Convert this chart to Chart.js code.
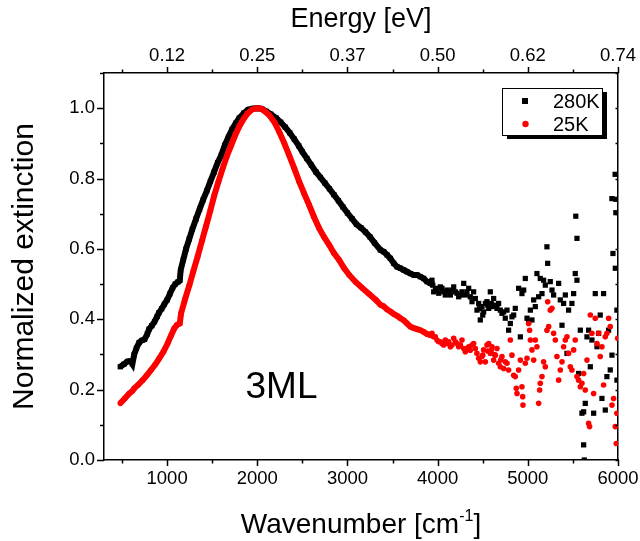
<!DOCTYPE html>
<html>
<head>
<meta charset="utf-8">
<script src="https://cdn.jsdelivr.net/npm/chart.js@4/dist/chart.umd.min.js"></script>
<style>
  html, body { margin: 0; padding: 0; background: #fff; }
  #wrap { width: 640px; height: 541px; }
</style>
</head>
<body>
<div id="wrap"><canvas id="c" width="640" height="541"></canvas></div>
<script>
const FONT = '"Liberation Sans", Arial, Helvetica, sans-serif';

// Axis ticks
const xTicks = [1000, 2000, 3000, 4000, 5000, 6000];
const energyLabels = ['0.12', '0.25', '0.37', '0.50', '0.62', '0.74'];
const yTicks = [0, 0.2, 0.4, 0.6, 0.8, 1.0];
const seriesNames = ['280K', '25K'];
const sampleLabel = '3ML';

// 280K spectrum: wavenumber [cm^-1] and normalized extinction
const wn280 = [
  480, 520, 560, 595, 615, 635, 660, 690, 720, 750, 780, 800, 830, 860, 890, 910, 940, 970,
  1000, 1030, 1060, 1090, 1120, 1140, 1150, 1180, 1210, 1245, 1280, 1320, 1360, 1400, 1440,
  1480, 1520, 1560, 1600, 1640, 1680, 1720, 1760, 1800, 1850, 1900, 1950, 2000, 2050, 2100,
  2150, 2210, 2260, 2310, 2360, 2410, 2460, 2500, 2550, 2600, 2650, 2700, 2750, 2800, 2850,
  2900, 2950, 3000, 3050, 3100, 3150, 3200, 3250, 3300, 3365, 3402, 3439, 3476, 3513, 3550,
  3587, 3624, 3661, 3698, 3735, 3771, 3808, 3845, 3882, 3919,
  3937, 3946, 3956, 3975, 3993, 4012, 4030, 4048, 4067, 4085, 4104, 4122, 4141, 4159, 4178,
  4196, 4215, 4233, 4252, 4270, 4289, 4307, 4325, 4344, 4362, 4381, 4399, 4418, 4436, 4455,
  4464, 4473, 4492, 4500, 4510, 4529, 4547, 4556, 4566, 4584, 4594, 4603, 4621, 4640, 4658,
  4676, 4695, 4713, 4732, 4750, 4769, 4787, 4806, 4824, 4843, 4861, 4898, 4917, 4935, 4954,
  4972, 4991, 5009, 5028, 5046, 5065, 5083, 5101, 5120, 5138, 5157, 5175, 5194, 5212, 5220,
  5249, 5268, 5286, 5342, 5360, 5379, 5397, 5416, 5434, 5452, 5489, 5508, 5526, 5532, 5545,
  5545, 5563, 5582, 5600, 5619, 5619, 5626, 5637, 5656, 5674, 5693, 5711, 5730, 5748, 5767,
  5785, 5803, 5822, 5840, 5859, 5877, 5896, 5914, 5932, 5933, 5944, 5968, 5970, 5976, 5976,
  5988, 5988
];
const ext280 = [
  0.265, 0.272, 0.280, 0.281, 0.273, 0.300, 0.318, 0.334, 0.340, 0.343, 0.358, 0.372, 0.382, 0.393, 0.408, 0.419, 0.430, 0.443,
  0.455, 0.472, 0.489, 0.500, 0.506, 0.510, 0.540, 0.570, 0.600, 0.628, 0.656, 0.685, 0.713, 0.740, 0.765,
  0.792, 0.818, 0.845, 0.866, 0.895, 0.918, 0.940, 0.957, 0.972, 0.986, 0.996, 0.999, 1.000, 0.998, 0.991,
  0.983, 0.972, 0.960, 0.946, 0.930, 0.912, 0.893, 0.876, 0.857, 0.838, 0.819, 0.803, 0.787, 0.771, 0.754,
  0.737, 0.719, 0.702, 0.686, 0.670, 0.660, 0.648, 0.634, 0.617, 0.597, 0.592, 0.583, 0.573, 0.559, 0.549,
  0.545, 0.540, 0.535, 0.530, 0.526, 0.526, 0.521, 0.516, 0.507, 0.502,
  0.511, 0.497, 0.478, 0.488, 0.483, 0.474, 0.492, 0.488, 0.478, 0.469, 0.483, 0.478, 0.469, 0.483, 0.492,
  0.478, 0.474, 0.464, 0.469, 0.478, 0.502, 0.469, 0.478, 0.488, 0.464, 0.450, 0.478, 0.459, 0.426, 0.445,
  0.430, 0.398, 0.436, 0.412, 0.421, 0.445, 0.450, 0.440, 0.431, 0.478, 0.445, 0.436, 0.459, 0.440, 0.431,
  0.445, 0.426, 0.417, 0.421, 0.403, 0.426, 0.369, 0.388, 0.407, 0.412, 0.431, 0.488, 0.350, 0.473, 0.483,
  0.516, 0.403, 0.393, 0.426, 0.398, 0.455, 0.436, 0.530, 0.464, 0.516, 0.473, 0.511, 0.497, 0.606, 0.559,
  0.507, 0.483, 0.469, 0.502, 0.455, 0.383, 0.445, 0.469, 0.303, 0.426, 0.445, 0.473, 0.530, 0.693, 0.630,
  0.511, 0.246, 0.369, 0.133, 0.137, 0.043, 0.000, 0.161, 0.350, 0.369, 0.265, 0.341, 0.133, 0.473, 0.322,
  0.360, 0.412, 0.175, 0.473, 0.142, 0.237, 0.369, 0.256, 0.743, 0.298, 0.587, 0.812, 0.545, 0.741, 0.703,
  0.426, 0.227
];

// 25K spectrum: wavenumber [cm^-1] and normalized extinction
const wn25 = [
  481, 530, 580, 615, 636, 680, 728, 780, 821, 870, 913, 960, 1005, 1040, 1079, 1110, 1140, 1155,
  1200, 1246, 1290, 1338, 1385, 1431, 1480, 1523, 1570, 1615, 1660, 1708, 1755, 1800, 1850, 1892,
  1940, 1990, 2040, 2090, 2133, 2190, 2243, 2300, 2354, 2410, 2465, 2520, 2576, 2630, 2687, 2740,
  2798, 2850, 2909, 2960, 3019, 3090, 3167, 3240, 3315, 3365, 3402, 3439, 3476, 3513, 3550, 3587,
  3624, 3661, 3698, 3735, 3771, 3808, 3845, 3882, 3919,
  3937, 3955, 3974, 3993, 4011, 4030, 4048, 4067, 4085, 4104, 4122, 4141, 4159, 4178, 4196, 4215,
  4233, 4252, 4270, 4289, 4307, 4326, 4344, 4362, 4381, 4399, 4418, 4436, 4455, 4473, 4492, 4500,
  4510, 4529, 4547, 4556, 4566, 4584, 4594, 4603, 4621, 4630, 4640, 4658, 4676, 4695, 4700, 4713,
  4732, 4750, 4769, 4787, 4806, 4824, 4843, 4861, 4872, 4880, 4898, 4917, 4935, 4943, 4946, 4972,
  4991, 5009, 5020, 5028, 5046, 5065, 5083, 5101, 5120, 5131, 5138, 5157, 5175, 5194, 5212, 5220,
  5231, 5249, 5268, 5286, 5305, 5323, 5342, 5360, 5379, 5397, 5416, 5434, 5452, 5471, 5489, 5508,
  5526, 5545, 5563, 5582, 5600, 5619, 5637, 5656, 5674, 5685, 5693, 5711, 5730, 5748, 5767, 5785,
  5803, 5822, 5840, 5859, 5877, 5896, 5914, 5933, 5951, 5970, 5981, 5988, 5996
];
const ext25 = [
  0.161, 0.175, 0.189, 0.196, 0.204, 0.214, 0.227, 0.242, 0.256, 0.272, 0.289, 0.308, 0.331, 0.352, 0.374, 0.384, 0.388, 0.417,
  0.458, 0.496, 0.536, 0.578, 0.622, 0.664, 0.710, 0.752, 0.792, 0.828, 0.862, 0.893, 0.923, 0.948, 0.970, 0.985,
  0.996, 1.000, 0.999, 0.990, 0.980, 0.960, 0.933, 0.900, 0.866, 0.829, 0.791, 0.757, 0.724, 0.690, 0.658, 0.634,
  0.611, 0.588, 0.568, 0.546, 0.526, 0.506, 0.488, 0.472, 0.455, 0.441, 0.437, 0.428, 0.422, 0.415, 0.410, 0.403,
  0.397, 0.388, 0.379, 0.375, 0.372, 0.369, 0.364, 0.358, 0.355,
  0.360, 0.350, 0.350, 0.341, 0.336, 0.336, 0.331, 0.327, 0.341, 0.331, 0.336, 0.322, 0.327, 0.346, 0.336, 0.331,
  0.322, 0.327, 0.341, 0.317, 0.308, 0.317, 0.322, 0.312, 0.327, 0.331, 0.317, 0.303, 0.289, 0.279, 0.294, 0.298,
  0.313, 0.279, 0.327, 0.310, 0.331, 0.303, 0.312, 0.322, 0.284, 0.300, 0.298, 0.317, 0.275, 0.265, 0.285, 0.294,
  0.260, 0.279, 0.275, 0.256, 0.341, 0.298, 0.241, 0.237, 0.204, 0.189, 0.256, 0.284, 0.208, 0.180, 0.156, 0.275,
  0.289, 0.388, 0.369, 0.341, 0.313, 0.284, 0.341, 0.322, 0.161, 0.199, 0.218, 0.237, 0.279, 0.265, 0.369, 0.450,
  0.379, 0.426, 0.431, 0.360, 0.341, 0.294, 0.227, 0.256, 0.279, 0.322, 0.341, 0.350, 0.303, 0.265, 0.256, 0.313,
  0.341, 0.237, 0.227, 0.208, 0.218, 0.246, 0.199, 0.284, 0.104, 0.095, 0.412, 0.360, 0.189, 0.403, 0.331, 0.360,
  0.294, 0.322, 0.213, 0.350, 0.360, 0.403, 0.379, 0.156, 0.175, 0.095, 0.047, 0.133, 0.346
];

// Above this wavenumber the noisy spectra are drawn as separate points only
const lineEnd = 3920;

const toPoints = (xs, ys) => xs.map((x, i) => ({ x: x, y: ys[i] }));
const BLACK = '#000000';
const RED = '#ff0000';

// Frame ticks, axis titles, sample label and legend box
const decorations = {
  id: 'decorations',
  afterDraw(chart) {
    const ctx = chart.ctx;
    const a = chart.chartArea;
    const xs = chart.scales.x;
    const ys = chart.scales.y;
    ctx.save();
    ctx.strokeStyle = '#000';
    ctx.lineWidth = 1.5;
    ctx.beginPath();
    const xStep = 500;
    for (let v = xStep; v <= 6000; v += xStep) {
      const px = Math.round(xs.getPixelForValue(v)) + 0.5;
      const len = v % 1000 === 0 ? 6 : 3.5;
      ctx.moveTo(px, a.bottom); ctx.lineTo(px, a.bottom + len);
      ctx.moveTo(px, a.top); ctx.lineTo(px, a.top - len);
    }
    for (let k = 0; k <= 11; k++) {
      const v = k / 10;
      const py = Math.round(ys.getPixelForValue(v)) + 0.5;
      const len = k % 2 === 0 ? 7 : 4;
      ctx.moveTo(a.left, py); ctx.lineTo(a.left - len, py);
      ctx.moveTo(a.right, py); ctx.lineTo(a.right - 2.5, py);
    }
    ctx.stroke();

    ctx.fillStyle = '#000';
    // y axis title, centred on the axis
    ctx.save();
    ctx.translate(33, (a.top + a.bottom) / 2);
    ctx.rotate(-Math.PI / 2);
    ctx.font = '30px ' + FONT;
    ctx.textAlign = 'center';
    ctx.textBaseline = 'alphabetic';
    ctx.fillText('Normalized extinction', 0, 0);
    ctx.restore();

    // x axis title with superscript unit
    const mainFont = '28px ' + FONT;
    const supFont = '16px ' + FONT;
    const partA = 'Wavenumber [cm';
    const partSup = '-1';
    const partB = ']';
    ctx.font = mainFont;
    const wA = ctx.measureText(partA).width;
    const wB = ctx.measureText(partB).width;
    ctx.font = supFont;
    const wS = ctx.measureText(partSup).width;
    const total = wA + wS + wB;
    const tx = (a.left + a.right) / 2 - total / 2;
    const base = 533;
    ctx.textAlign = 'left';
    ctx.textBaseline = 'alphabetic';
    ctx.font = mainFont;
    ctx.fillText(partA, tx, base);
    ctx.font = supFont;
    ctx.fillText(partSup, tx + wA, base - 12);
    ctx.font = mainFont;
    ctx.fillText(partB, tx + wA + wS, base);

    // sample label
    ctx.font = '37px ' + FONT;
    ctx.fillText(sampleLabel, 245.5, 398);

    // legend with drop shadow
    const bx = 502, by = 88, bw = 100, bh = 47;
    ctx.fillStyle = '#000';
    ctx.fillRect(bx + 5, by + 4, bw, bh);
    ctx.fillStyle = '#fff';
    ctx.fillRect(bx, by, bw, bh);
    ctx.lineWidth = 1;
    ctx.strokeStyle = '#000';
    ctx.strokeRect(bx + 0.5, by + 0.5, bw, bh);
    const entries = [
      { name: seriesNames[0], color: BLACK, shape: 'rect', y: 101 },
      { name: seriesNames[1], color: RED, shape: 'circle', y: 124 }
    ];
    ctx.font = '20px ' + FONT;
    entries.forEach(e => {
      ctx.fillStyle = e.color;
      if (e.shape === 'rect') {
        ctx.fillRect(522, e.y - 3, 6, 6);
      } else {
        ctx.beginPath();
        ctx.arc(525.5, e.y, 3.2, 0, Math.PI * 2);
        ctx.fill();
      }
      ctx.fillStyle = '#000';
      ctx.textBaseline = 'middle';
      ctx.fillText(e.name, 553, e.y + 1);
    });
    ctx.restore();
  }
};

const axisFont = { family: FONT, size: 18.5 };
const border = { display: true, color: '#000', width: 1.5 };
const fixHorizontal = h => s => { s.height = h; s.paddingLeft = 0; s.paddingRight = 0; };
const fixVertical = w => s => { s.width = w; s.paddingTop = 0; s.paddingBottom = 0; };

new Chart(document.getElementById('c'), {
  type: 'scatter',
  data: {
    datasets: [
      {
        label: seriesNames[1],
        data: toPoints(wn25, ext25),
        showLine: true,
        borderColor: RED,
        borderWidth: 6,
        backgroundColor: RED,
        pointStyle: 'circle',
        pointRadius: 2.8,
        pointBorderWidth: 0,
        pointHoverRadius: 2.8,
        order: 0,
        segment: { borderColor: c => (c.p0.parsed.x >= lineEnd ? 'rgba(0,0,0,0)' : RED) }
      },
      {
        label: seriesNames[0],
        data: toPoints(wn280, ext280),
        showLine: true,
        borderColor: BLACK,
        borderWidth: 6,
        backgroundColor: BLACK,
        pointStyle: 'rect',
        pointRadius: 3.7,
        pointBorderWidth: 0,
        pointHoverRadius: 3.7,
        order: 1,
        segment: { borderColor: c => (c.p0.parsed.x >= lineEnd ? 'rgba(0,0,0,0)' : BLACK) }
      }
    ]
  },
  options: {
    responsive: false,
    animation: false,
    devicePixelRatio: 1,
    layout: { padding: 0 },
    events: [],
    plugins: { legend: { display: false }, tooltip: { enabled: false } },
    scales: {
      x: {
        type: 'linear', position: 'bottom', min: 300, max: 6000,
        afterFit: fixHorizontal(81),
        afterBuildTicks: s => { s.ticks = xTicks.map(v => ({ value: v })); },
        grid: { display: false, drawTicks: false },
        border: border,
        ticks: { padding: 8, color: '#000', font: axisFont, maxRotation: 0, autoSkip: false, callback: v => String(v) }
      },
      x2: {
        type: 'linear', position: 'top', min: 300, max: 6000,
        afterFit: fixHorizontal(73),
        afterBuildTicks: s => { s.ticks = xTicks.map(v => ({ value: v })); },
        grid: { display: false, drawTicks: false },
        border: border,
        ticks: { padding: 6, color: '#000', font: axisFont, maxRotation: 0, autoSkip: false,
                 callback: v => energyLabels[xTicks.indexOf(v)] },
        title: { display: true, text: 'Energy [eV]', color: '#000', font: { family: FONT, size: 27 }, padding: { top: 3, bottom: 0 } }
      },
      y: {
        type: 'linear', position: 'left', min: 0, max: 1.1,
        afterFit: fixVertical(104),
        afterBuildTicks: s => { s.ticks = yTicks.map(v => ({ value: v })); },
        grid: { display: false, drawTicks: false },
        border: border,
        ticks: { padding: 9, color: '#000', font: axisFont, callback: v => Number(v).toFixed(1) }
      },
      y2: {
        type: 'linear', position: 'right', min: 0, max: 1.1,
        afterFit: fixVertical(22),
        grid: { display: false, drawTicks: false },
        border: border,
        ticks: { display: false }
      }
    }
  },
  plugins: [decorations]
});
</script>
</body>
</html>
